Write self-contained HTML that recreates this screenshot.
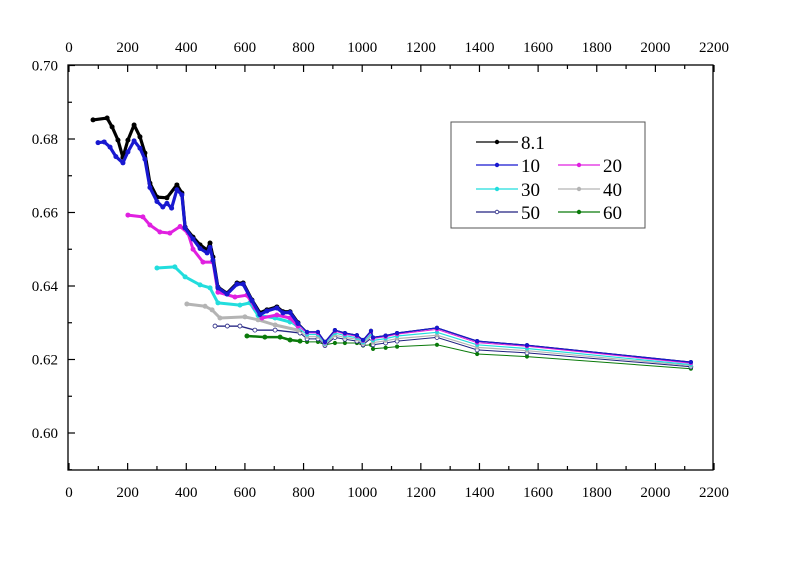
<!DOCTYPE html>
<html><head><meta charset="utf-8"><style>
body{margin:0;background:#fff}
svg{display:block;font-family:"Liberation Serif",serif}
</style></head><body>
<svg id="c" width="800" height="564"></svg>
<script>
const tailX=[812,849,873,907,941,982,1003,1030,1037,1080,1119,1255,1392,1562,2121];
const s81X=[82,130,147,167,184,201,222,242,259,276,300,334,368,385,396,423,447,471,481,491,508,539,573,594,624,651,675,709,730,754,781];
const s81Y=[.6852,.6857,.6833,.6797,.675,.6797,.6838,.6806,.6762,.668,.6642,.664,.6675,.6653,.656,.6533,.6512,.6498,.6517,.6479,.6397,.638,.6408,.6408,.6362,.6327,.6335,.6343,.633,.633,.63];
const s10X=[99,120,140,160,184,201,222,242,259,276,300,320,334,350,368,385,396,423,447,471,481,491,508,539,573,594,624,651,675,709,730,754,781];
const s10Y=[.679,.6792,.6778,.6752,.6735,.6765,.6795,.6775,.6745,.6668,.663,.6615,.6625,.6612,.6662,.6648,.6558,.6528,.6502,.649,.6505,.647,.6395,.6378,.6405,.6405,.636,.6322,.6332,.634,.6327,.6328,.6298];
const tail10=[.6275,.6275,.6248,.628,.6272,.6266,.6253,.6278,.626,.6265,.6272,.6286,.625,.6239,.6193];
const s20X=[201,252,276,310,344,379,406,423,457,491,508,566,607,634,658,709,754,781];
const s20Y=[.6593,.6588,.6566,.6547,.6544,.6562,.6544,.65,.6465,.6465,.6383,.637,.6375,.6342,.6313,.6321,.6313,.6291];
const tail20=[.6273,.6272,.6246,.6277,.6269,.6263,.6251,.6275,.6257,.6262,.6269,.6282,.6246,.6236,.619];
const s30X=[300,361,396,447,481,508,583,617,645,703,754];
const s30Y=[.6449,.6452,.6425,.6403,.6395,.6354,.6348,.6354,.632,.6313,.6302];
const tail30=[.6268,.6268,.6243,.6272,.6265,.6259,.6247,.627,.6252,.6257,.6264,.6274,.624,.623,.6186];
const s40X=[402,464,488,515,600,645,703,781];
const s40Y=[.6351,.6345,.6335,.6313,.6316,.6308,.6294,.628];
const tail40=[.6262,.6262,.624,.6266,.626,.6255,.6243,.6264,.6246,.6251,.6257,.6266,.6233,.6224,.6183];
const s50X=[498,540,583,634,703,788];
const s50Y=[.6291,.6291,.6291,.628,.628,.6272];
const tail50=[.6256,.6256,.6238,.626,.6255,.625,.624,.6258,.624,.6245,.625,.626,.6226,.6218,.618];
const s60X=[607,668,720,754,788];
const s60Y=[.6264,.6261,.6261,.6253,.625];
const tail60=[.6248,.6248,.624,.6245,.6245,.6245,.6238,.624,.6229,.6232,.6235,.624,.6215,.6208,.6175];
const xTicks=[0,200,400,600,800,1000,1200,1400,1600,1800,2000,2200];
const yTicks=[0.60,0.62,0.64,0.66,0.68,0.70];

const NS="http://www.w3.org/2000/svg";
const svg=document.getElementById('c');
const L=68,R=713,T=65,B=470;
const sx=v=>69+v*0.2932;
const sy=v=>65.5+(0.70-v)*3675;
function el(t,a,p){const e=document.createElementNS(NS,t);for(const k in a)e.setAttribute(k,a[k]);(p||svg).appendChild(e);return e;}

const frame=el('rect',{x:L,y:T,width:R-L,height:B-T,fill:'none',stroke:'#000','stroke-width':1.3});


for(let v=0;v<=2200;v+=100){
  const major=v%200===0,x=sx(v),len=major?7:4;
  const t1=el('line',{x1:x,x2:x,y1:B,y2:B-len,stroke:'#000','stroke-width':1.2});
  
  
  const t2=el('line',{x1:x,x2:x,y1:T,y2:T+len,stroke:'#000','stroke-width':1.2});
  
  
}
xTicks.forEach(v=>{
  const a=el('text',{x:sx(v),y:B+27,'text-anchor':'middle','font-size':15});a.textContent=v;
  
  
  const b=el('text',{x:sx(v),y:T-13,'text-anchor':'middle','font-size':15});b.textContent=v;
  
  
});
for(let i=0;i<=11;i++){
  const v=0.59+i*0.01;if(v>0.7005)break;
  const major=i%2===1,y=sy(v),len=major?7:4;
  const t=el('line',{x1:L,x2:L+len,y1:y,y2:y,stroke:'#000','stroke-width':1.2});
  
  
}
yTicks.forEach(v=>{
  const a=el('text',{x:L-10,y:sy(v)+5,'text-anchor':'end','font-size':15});a.textContent=v.toFixed(2);
  
  
});

function series(name,xs,ys,tail,color,lw,open,headW){
  const X=xs.concat(tailX),Y=ys.concat(tail);
  const g=el('g',{});
  
  
  const pts=X.map((x,i)=>sx(x).toFixed(1)+','+sy(Y[i]).toFixed(1)).join(' ');
  const pl=el('polyline',{points:pts,fill:'none',stroke:color,'stroke-width':lw},g);
  
  
  const hp=xs.map((x,i)=>sx(x).toFixed(1)+','+sy(ys[i]).toFixed(1)).join(' ');
  const hl=el('polyline',{points:hp,fill:'none',stroke:color,'stroke-width':headW,'stroke-linejoin':'round',opacity:open?0.6:1},g);
  
  
  X.forEach((x,i)=>{
    const c=el('circle',{cx:sx(x),cy:sy(Y[i]),r:open?2:(i<xs.length?2.5:2.1),fill:open?'#fff':color,stroke:color,'stroke-width':open?0.8:0},g);
    
    
  });
}
series('60',s60X,s60Y,tail60,'#0a7a0a',1,false,2.5);
series('50',s50X,s50Y,tail50,'#202080',1,true,1.5);
series('40',s40X,s40Y,tail40,'#b4b4b4',1.2,false,3);
series('30',s30X,s30Y,tail30,'#22dddd',1.2,false,3);
series('20',s20X,s20Y,tail20,'#e020e0',1,false,3);
series('8.1',s81X,s81Y,tail10,'#000',1.2,false,3.2);
series('10',s10X,s10Y,tail10,'#1818d0',1.2,false,3.2);

const lg=el('g',{});


el('rect',{x:451,y:122,width:194,height:106,fill:'#fff',stroke:'#555','stroke-width':1},lg);
const entries=[['8.1','#000',476,142,false],['10','#1818d0',476,165,false],['20','#e020e0',558,165,false],['30','#22dddd',476,189,false],['40','#b4b4b4',558,189,false],['50','#202080',476,212,true],['60','#0a7a0a',558,212,false]];
entries.forEach(e=>{
  const g=el('g',{},lg);
  
  
  el('line',{x1:e[2],x2:e[2]+42,y1:e[3],y2:e[3],stroke:e[1],'stroke-width':1.2},g);
  el('circle',{cx:e[2]+21,cy:e[3],r:1.8,fill:e[4]?'#fff':e[1],stroke:e[1],'stroke-width':0.8},g);
  const t=el('text',{x:e[2]+45,y:e[3]+7,'font-size':19},g);t.textContent=e[0];
});
</script>
</body></html>
